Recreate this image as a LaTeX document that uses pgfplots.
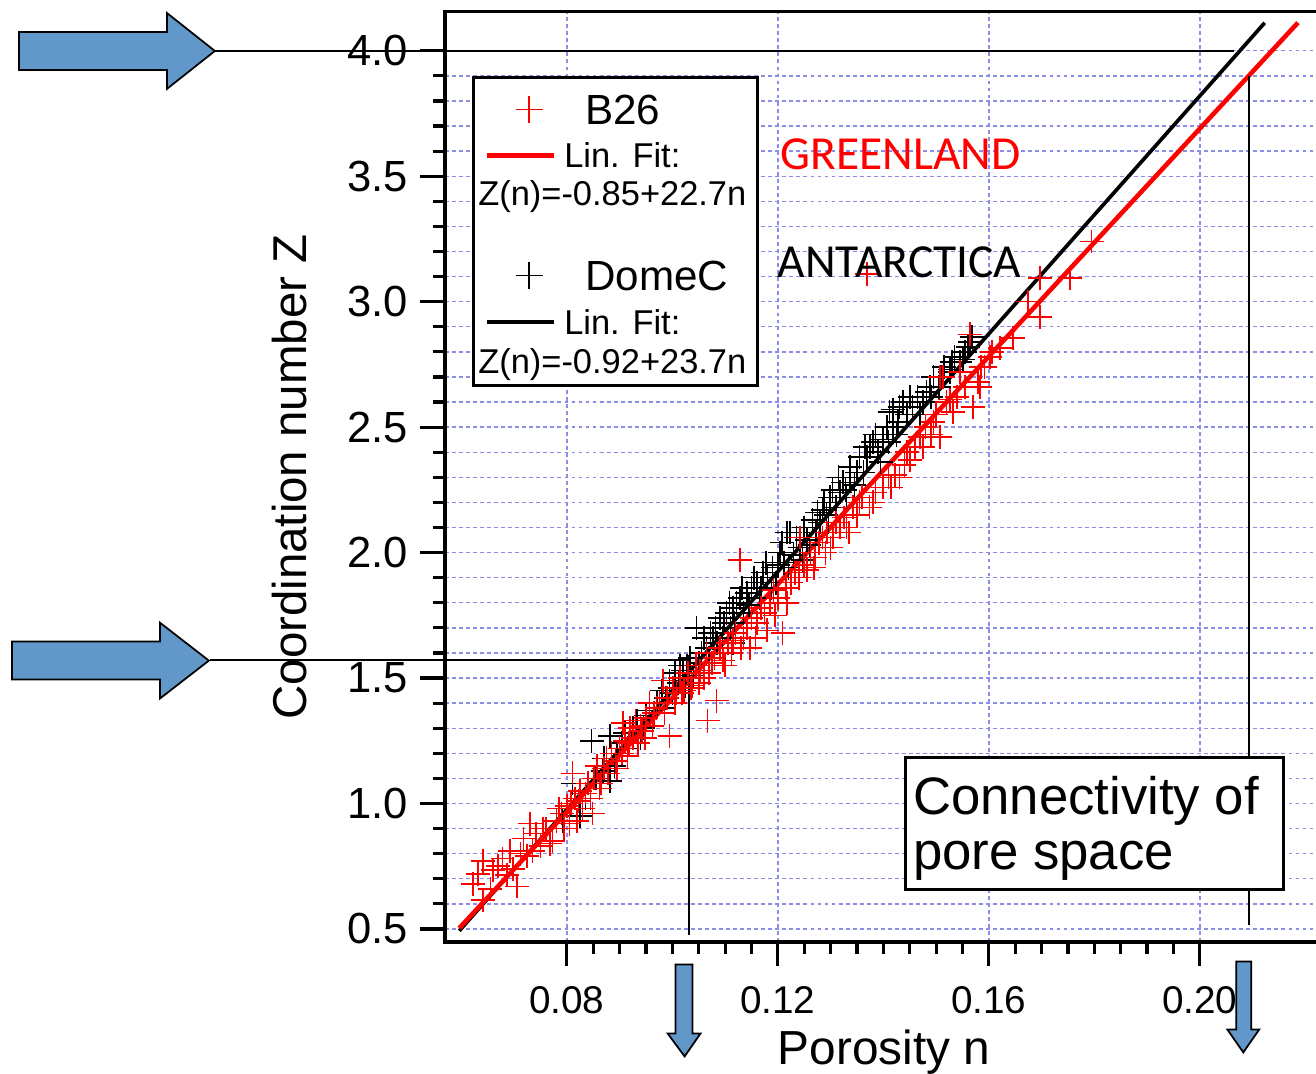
\documentclass[border=0pt]{standalone}
\usepackage{fontspec}
\setmainfont{Liberation Sans}
\newfontfamily\calibri{Carlito}
\usepackage{pgfplots}
\usepackage{pgfplotstable}
\pgfplotsset{compat=1.18}

\definecolor{gridblue}{RGB}{140,140,235}
\definecolor{arrowblue}{RGB}{97,151,201}

% B26 (Greenland)
\pgfplotstableread{
n Z
0.0622 0.68
0.0632 0.72
0.0641 0.615
0.0641 0.77
0.0655 0.66
0.0660 0.735
0.0670 0.75
0.0678 0.78
0.0686 0.715
0.0692 0.81
0.0698 0.74
0.0705 0.67
0.0712 0.80
0.0718 0.86
0.0724 0.79
0.0730 0.92
0.0735 0.81
0.0742 0.88
0.0750 0.83
0.0755 0.90
0.0760 0.90
0.0768 0.84
0.0773 0.85
0.0780 0.93
0.0785 0.98
0.0790 0.96
0.0795 0.90
0.0800 0.99
0.0805 0.92
0.0808 1.00
0.0811 1.12
0.0815 1.02
0.0819 0.93
0.0822 1.01
0.0825 1.05
0.0830 0.98
0.0835 1.04
0.0840 1.08
0.0845 1.02
0.0849 0.96
0.0852 1.10
0.0857 1.15
0.0862 1.06
0.0865 1.08
0.0870 1.14
0.0875 1.18
0.0878 1.12
0.0885 1.20
0.0892 1.17
0.0895 1.14
0.0900 1.22
0.0905 1.20
0.0906 1.32
0.0910 1.25
0.0915 1.19
0.0918 1.24
0.0920 1.30
0.0925 1.26
0.0930 1.33
0.0935 1.24
0.0940 1.31
0.0942 1.29
0.0948 1.26
0.0950 1.34
0.0957 1.40
0.0962 1.31
0.0965 1.36
0.0970 1.38
0.0976 1.40
0.0982 1.49
0.0985 1.36
0.0990 1.42
0.0995 1.27
0.1001 1.46
0.1005 1.40
0.1008 1.44
0.1015 1.50
0.1018 1.44
0.1022 1.45
0.1030 1.52
0.1035 1.46
0.1038 1.47
0.1045 1.55
0.1050 1.48
0.1052 1.53
0.1060 1.50
0.1065 1.60
0.1067 1.33
0.1070 1.52
0.1075 1.56
0.1080 1.58
0.1084 1.41
0.1090 1.62
0.1096 1.57
0.1100 1.55
0.1105 1.64
0.1112 1.60
0.1115 1.65
0.1120 1.68
0.1128 1.97
0.1130 1.62
0.1135 1.66
0.1142 1.70
0.1147 1.62
0.1150 1.74
0.1158 1.66
0.1160 1.72
0.1168 1.78
0.1175 1.76
0.1179 1.69
0.1185 1.80
0.1192 1.85
0.1195 1.75
0.1200 1.82
0.1209 1.68
0.1215 1.86
0.1217 1.80
0.1225 1.88
0.1232 1.92
0.1240 1.90
0.1242 2.06
0.1250 1.95
0.1255 1.93
0.1262 2.00
0.1268 1.94
0.1270 1.98
0.1278 2.04
0.1285 2.06
0.1290 2.00
0.1293 2.08
0.1300 2.02
0.1305 2.06
0.1310 2.12
0.1318 2.10
0.1325 2.14
0.1330 2.10
0.1335 2.08
0.1342 2.18
0.1350 2.15
0.1355 2.20
0.1360 2.22
0.1369 3.11
0.1374 2.18
0.1380 2.20
0.1385 2.24
0.1399 2.26
0.1410 2.30
0.1415 2.26
0.1422 2.31
0.1431 2.30
0.1440 2.35
0.1445 2.40
0.1450 2.37
0.1460 2.42
0.1470 2.46
0.1475 2.42
0.1480 2.50
0.1490 2.47
0.1495 2.52
0.1500 2.55
0.1507 2.46
0.1507 2.70
0.1513 2.70
0.1520 2.60
0.1526 2.61
0.1532 2.56
0.1540 2.62
0.1545 2.72
0.1555 2.66
0.1564 2.87
0.1570 2.58
0.1579 2.68
0.1583 2.66
0.1585 2.74
0.1592 2.74
0.1602 2.78
0.1606 2.80
0.1621 2.815
0.1646 2.855
0.1674 3.00
0.1697 2.94
0.1697 3.095
0.1754 3.095
0.1795 3.24
}\redtable

% DomeC (Antarctica)
\pgfplotstableread{
n Z
0.0792 0.93
0.0811 1.08
0.0825 0.95
0.0835 1.02
0.0847 1.25
0.0855 1.10
0.0868 1.13
0.0870 1.18
0.0882 1.09
0.0882 1.27
0.0890 1.15
0.0895 1.20
0.0905 1.24
0.0910 1.28
0.0915 1.22
0.0925 1.30
0.0933 1.33
0.0940 1.26
0.0945 1.30
0.0950 1.35
0.0957 1.40
0.0957 1.37
0.0965 1.36
0.0971 1.40
0.0980 1.45
0.0985 1.38
0.0988 1.42
0.0995 1.49
0.0995 1.46
0.1000 1.44
0.1005 1.52
0.1012 1.48
0.1015 1.55
0.1020 1.53
0.1025 1.47
0.1028 1.55
0.1033 1.58
0.1040 1.51
0.1046 1.70
0.1050 1.56
0.1055 1.60
0.1060 1.66
0.1065 1.62
0.1070 1.58
0.1072 1.68
0.1077 1.66
0.1082 1.70
0.1085 1.64
0.1090 1.74
0.1095 1.66
0.1098 1.72
0.1103 1.76
0.1108 1.80
0.1110 1.70
0.1115 1.78
0.1115 1.64
0.1118 1.72
0.1122 1.80
0.1128 1.82
0.1132 1.86
0.1135 1.76
0.1142 1.84
0.1145 1.79
0.1150 1.86
0.1155 1.90
0.1160 1.88
0.1165 1.82
0.1168 1.86
0.1172 1.92
0.1178 1.96
0.1180 1.90
0.1188 1.86
0.1190 1.94
0.1197 1.88
0.1200 1.95
0.1204 2.00
0.1208 2.04
0.1212 1.96
0.1217 2.08
0.1220 1.94
0.1223 2.08
0.1230 1.99
0.1235 2.06
0.1242 2.02
0.1247 1.97
0.1250 2.10
0.1255 2.05
0.1260 2.03
0.1266 2.13
0.1272 2.08
0.1275 2.16
0.1280 2.12
0.1285 2.17
0.1288 2.20
0.1292 2.15
0.1296 2.12
0.1299 2.22
0.1304 2.25
0.1310 2.18
0.1315 2.30
0.1318 2.24
0.1323 2.28
0.1328 2.25
0.1330 2.22
0.1337 2.34
0.1337 2.30
0.1345 2.27
0.1350 2.32
0.1355 2.38
0.1362 2.32
0.1365 2.42
0.1369 2.38
0.1375 2.42
0.1380 2.44
0.1385 2.47
0.1390 2.40
0.1395 2.36
0.1399 2.45
0.1407 2.50
0.1410 2.44
0.1412 2.56
0.1418 2.57
0.1418 2.50
0.1425 2.47
0.1428 2.52
0.1431 2.58
0.1437 2.60
0.1445 2.55
0.1450 2.62
0.1455 2.58
0.1465 2.62
0.1470 2.55
0.1475 2.60
0.1482 2.64
0.1488 2.66
0.1490 2.62
0.1495 2.70
0.1505 2.66
0.1510 2.70
0.1515 2.74
0.1526 2.72
0.1526 2.73
0.1530 2.76
0.1535 2.78
0.1545 2.76
0.1551 2.77
0.1555 2.80
0.1560 2.82
0.1564 2.84
0.1568 2.86
}\blacktable

\begin{document}
\begin{tikzpicture}
\begin{axis}[
  at={(4.45cm,1.32cm)}, anchor=south west,
  scale only axis, width=8.735cm, height=9.306cm,
  xmin=0.0569, xmax=0.2225, ymin=0.448, ymax=4.157,
  clip=false,
  axis line style={line width=0.9pt},
  xtick={0.08,0.12,0.16,0.20},
  minor x tick num=7,
  ytick={0.5,1.0,...,4.0},
  minor y tick num=4,
  xtick pos=left, ytick pos=left,
  tick align=outside,
  major tick length=0.245cm, minor tick length=0.12cm,
  tick style={black, line width=0.9pt},
  xmajorgrids=true, xminorgrids=false, ymajorgrids=true, yminorgrids=true,
  major grid style={gridblue, line width=0.4pt, dash pattern=on 1.1pt off 0.9pt},
  minor grid style={gridblue, line width=0.4pt, dash pattern=on 1.1pt off 0.9pt},
  scaled x ticks=false, scaled y ticks=false,
  /pgf/number format/assume math mode=true,
  xticklabel style={font=\fontsize{11}{13}\selectfont, yshift=-0.08cm, /pgf/number format/.cd, fixed, fixed zerofill, precision=2},
  yticklabel style={font=\fontsize{12.4}{14}\selectfont, /pgf/number format/.cd, fixed, fixed zerofill, precision=1},
  xlabel={Porosity n},
  ylabel={Coordination number Z},
  xlabel style={font=\fontsize{13.6}{16}\selectfont, at={(axis description cs:0.5026,-0.1311)}, anchor=base},
  ylabel style={font=\fontsize{13.5}{16}\selectfont, at={(axis description cs:-0.158,0.4997)}, anchor=base},
  legend cell align=left,
  legend style={at={(axis description cs:0.0309,0.9306)}, anchor=north west,
    draw=black, line width=0.9pt, fill=white,
    inner xsep=0.04cm, inner ysep=0.07cm,
    /tikz/row sep=0pt, /tikz/column sep=0.08cm,
    nodes={inner sep=0pt, text depth=},
    font=\fontsize{9.8}{11}\selectfont},
]
% scatter data
\addplot[forget plot, only marks, mark=+, mark size=3.4pt, black, mark options={line width=0.45pt}] table[x=n, y=Z] {\blacktable};
\addplot[forget plot, only marks, mark=+, mark size=3.4pt, red, mark options={line width=0.45pt}] table[x=n, y=Z] {\redtable};
% linear fits
\addplot[forget plot, black, line width=1.05pt] coordinates {(0.0596,0.4925) (0.2123,4.1115)};
\addplot[forget plot, red, line width=1.3pt] coordinates {(0.0596,0.503) (0.2186,4.112)};
% reading lines
\addplot[forget plot, black, line width=0.55pt] coordinates {(0.01327,4.0) (0.2065,4.0)};
\addplot[forget plot, black, line width=0.55pt] coordinates {(0.2093,3.90) (0.2093,0.516)};
\addplot[forget plot, black, line width=0.55pt] coordinates {(0.01232,1.572) (0.1031,1.572)};
\addplot[forget plot, black, line width=0.55pt] coordinates {(0.1031,1.59) (0.1031,0.476)};

% legend
\addlegendimage{legend image code/.code={\path (-0.08cm,0cm) (0.67cm,0cm); \draw[red, line width=0.45pt] plot[only marks, mark=+, mark size=3.8pt] coordinates {(0.42cm,0cm)};}}
\addlegendentry{\fontsize{12}{14}\selectfont\hspace*{0.21cm}\rule[-2.8pt]{0pt}{14.2pt}B26}
\addlegendimage{legend image code/.code={\path (-0.08cm,0cm) (0.67cm,0cm); \draw[red, line width=1.2pt] (0cm,0cm) -- (0.67cm,0cm);}}
\addlegendentry{\rule[-2.47pt]{0pt}{11.95pt}Lin. Fit:}
\addlegendimage{legend image code/.code={\path (-0.08cm,0cm) (0.67cm,0cm);}}
\addlegendentry{\rule[-1.34pt]{0pt}{9.67pt}\hspace*{-0.86cm}\smash{Z(n)=-0.85+22.7n}\hspace*{0.07cm}}
\addlegendimage{legend image code/.code={\path (-0.08cm,0cm) (0.67cm,0cm);}}
\addlegendentry{\rule[-5.69pt]{0pt}{11.38pt}}
\addlegendimage{legend image code/.code={\path (-0.08cm,0cm) (0.67cm,0cm); \draw[black, line width=0.45pt] plot[only marks, mark=+, mark size=3.8pt] coordinates {(0.42cm,0cm)};}}
\addlegendentry{\fontsize{12}{14}\selectfont\hspace*{0.21cm}\rule[-2.8pt]{0pt}{14.2pt}DomeC}
\addlegendimage{legend image code/.code={\path (-0.08cm,0cm) (0.67cm,0cm); \draw[black, line width=1.2pt] (0cm,0cm) -- (0.67cm,0cm);}}
\addlegendentry{\rule[-2.76pt]{0pt}{12.52pt}Lin. Fit:}
\addlegendimage{legend image code/.code={\path (-0.08cm,0cm) (0.67cm,0cm);}}
\addlegendentry{\rule[-1.34pt]{0pt}{9.67pt}\hspace*{-0.86cm}\smash{Z(n)=-0.92+23.7n}\hspace*{0.07cm}}
\end{axis}

% annotations in pixel coordinates (origin top-left)
\begin{scope}[x=0.01cm, y=-0.01cm, shift={(0cm,10.74cm)}]
  \node[anchor=base, inner sep=0pt, text=red, font=\calibri\fontsize{13.5}{16}\selectfont] at (901,170) {GREENLAND};
  \node[anchor=base, inner sep=0pt, text=black, font=\calibri\fontsize{13.5}{16}\selectfont] at (900,278) {ANTARCTICA};
  \draw[line width=0.9pt, fill=white] (906,758) rectangle (1284,890);
  \node[anchor=base west, inner sep=0pt, font=\fontsize{15}{18}\selectfont] at (913,815) {Connectivity of};
  \node[anchor=base west, inner sep=0pt, font=\fontsize{15}{18}\selectfont] at (913,870) {pore space};
  % block arrows
  \filldraw[fill=arrowblue, draw=black, line width=0.5pt]
    (19,32) -- (167,32) -- (167,13) -- (215,51) -- (167,89) -- (167,70) -- (19,70) -- cycle;
  \filldraw[fill=arrowblue, draw=black, line width=0.5pt]
    (12,642) -- (160,642) -- (160,623) -- (209,661) -- (160,699) -- (160,680) -- (12,680) -- cycle;
  \filldraw[fill=arrowblue, draw=black, line width=0.5pt]
    (676,965) -- (693,965) -- (693,1034) -- (701,1034) -- (685,1057) -- (668,1034) -- (676,1034) -- cycle;
  \filldraw[fill=arrowblue, draw=black, line width=0.5pt]
    (1237,962) -- (1252,962) -- (1252,1030) -- (1260,1030) -- (1244,1053) -- (1228,1030) -- (1237,1030) -- cycle;
\end{scope}
\pgfresetboundingbox
\path[use as bounding box] (0,0) rectangle (13.16cm,10.74cm);
\end{tikzpicture}
\end{document}
